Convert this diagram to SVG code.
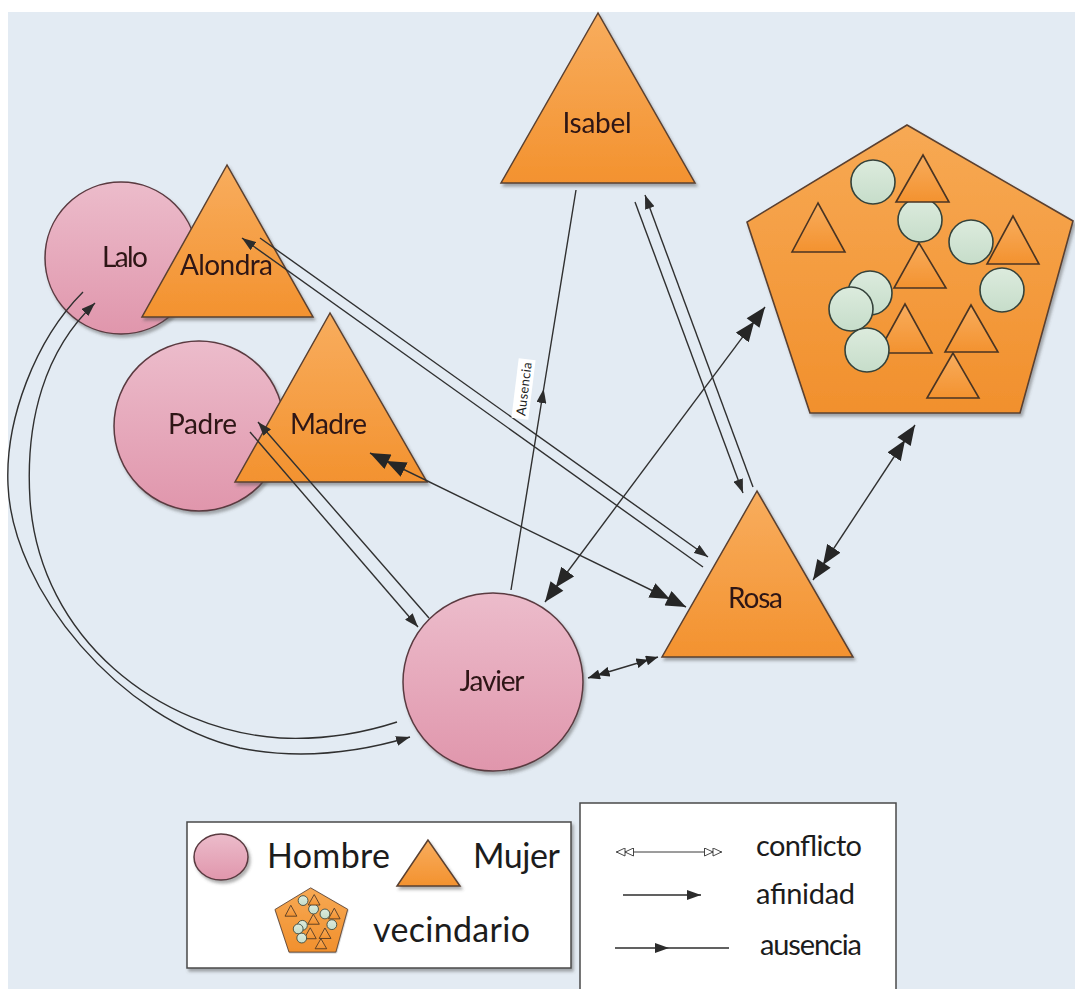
<svg xmlns="http://www.w3.org/2000/svg" xmlns:xlink="http://www.w3.org/1999/xlink" width="1075" height="989" viewBox="0 0 1075 989">
  <defs>
    <style>
      .lbl { font-family: Lato, "Liberation Sans", sans-serif; font-size: 28px; fill: #2e1616; text-anchor: middle; }
      .leg1 { font-family: Lato, "Liberation Sans", sans-serif; font-size: 34px; fill: #1c1c1c; }
      .leg2 { font-family: Lato, "Liberation Sans", sans-serif; font-size: 29px; fill: #1c1c1c; }
      .man { fill: url(#pinkGrad); stroke: #5a3a40; stroke-width: 1.5; }
      .woman { fill: url(#orangeGrad); stroke: #5a4030; stroke-width: 1.5; }
      .hood { fill: url(#hoodGrad); stroke: #5a4030; }
      .mini-c { fill: url(#greenGrad); stroke: #34423a; }
      .mini-t { fill: url(#orangeGrad); stroke: #4a3424; }
      .link { fill: none; stroke: #303030; stroke-width: 1.4; }
      .box { fill: #ffffff; stroke: #4a4a4a; stroke-width: 1.5; }
    </style>
    <linearGradient id="pinkGrad" x1="0" y1="0" x2="0" y2="1">
      <stop offset="0" stop-color="#ecbccb"/>
      <stop offset="1" stop-color="#e096ac"/>
    </linearGradient>
    <linearGradient id="orangeGrad" x1="0" y1="0" x2="0" y2="1">
      <stop offset="0" stop-color="#f8ad5e"/>
      <stop offset="1" stop-color="#f3922f"/>
    </linearGradient>
    <linearGradient id="hoodGrad" x1="0" y1="0" x2="0" y2="1">
      <stop offset="0" stop-color="#f7a954"/>
      <stop offset="1" stop-color="#f1902d"/>
    </linearGradient>
    <linearGradient id="greenGrad" x1="0" y1="0" x2="0" y2="1">
      <stop offset="0" stop-color="#dcebdd"/>
      <stop offset="1" stop-color="#c6ddca"/>
    </linearGradient>
    <filter id="shadow" x="-10%" y="-10%" width="125%" height="125%">
      <feDropShadow dx="2" dy="3" stdDeviation="1.8" flood-color="#505050" flood-opacity="0.45"/>
    </filter>

    <!-- single filled arrowhead (afinidad) -->
    <marker id="ah" viewBox="0 0 14 10" refX="14" refY="5" markerWidth="14" markerHeight="10" markerUnits="userSpaceOnUse" orient="auto">
      <path d="M0,0 L14,5 L0,10 z" fill="#2c2c2c"/>
    </marker>
    <!-- mid-line arrowhead (ausencia) -->
    <marker id="mid" viewBox="0 0 14 10" refX="10" refY="5" markerWidth="14" markerHeight="10" markerUnits="userSpaceOnUse" orient="auto">
      <path d="M0,0 L14,5 L0,10 z" fill="#2c2c2c"/>
    </marker>
    <!-- double filled arrowhead (conflicto) -->
    <marker id="dd" viewBox="0 0 38 16" refX="38" refY="8" markerWidth="38" markerHeight="16" markerUnits="userSpaceOnUse" orient="auto-start-reverse">
      <path d="M0,0 L20,8 L0,16 z M18,0 L38,8 L18,16 z" fill="#262626"/>
    </marker>
    <marker id="ddSmall" viewBox="0 0 22 10" refX="22" refY="5" markerWidth="22" markerHeight="10" markerUnits="userSpaceOnUse" orient="auto-start-reverse">
      <path d="M0,0 L12,5 L0,10 z M10,0 L22,5 L10,10 z" fill="#262626"/>
    </marker>
    <!-- open double arrowhead used in the key -->
    <marker id="ddOpen" viewBox="0 0 18 9" refX="18" refY="4.5" markerWidth="18" markerHeight="9" markerUnits="userSpaceOnUse" orient="auto-start-reverse">
      <path d="M0.5,0.5 L9,4.5 L0.5,8.5 z M9,0.5 L17.5,4.5 L9,8.5 z" fill="#ffffff" stroke="#333" stroke-width="0.9"/>
    </marker>

    <!-- neighbourhood pictogram: pentagon filled with people -->
    <g id="hoodShape">
      <polygon class="hood" points="907,125 1073,221 1020,413 810,413 747,222"/>
      <circle class="mini-c" cx="873" cy="182" r="22"/>
      <circle class="mini-c" cx="920" cy="220" r="22"/>
      <polygon class="mini-t" points="923,155 896,202 949,202"/>
      <polygon class="mini-t" points="818,203 792,252 845,252"/>
      <polygon class="mini-t" points="1013,216 987,264 1039,264"/>
      <circle class="mini-c" cx="971" cy="242" r="22"/>
      <polygon class="mini-t" points="919,243 894,288 946,288"/>
      <circle class="mini-c" cx="1002" cy="290" r="22"/>
      <polygon class="mini-t" points="905,304 878,353 932,353"/>
      <circle class="mini-c" cx="870" cy="293" r="22"/>
      <circle class="mini-c" cx="851" cy="309" r="22"/>
      <circle class="mini-c" cx="867" cy="350" r="22"/>
      <polygon class="mini-t" points="971,305 945,352 998,352"/>
      <polygon class="mini-t" points="953,353 927,398 979,398"/>
    </g>
  </defs>

  <!-- canvas -->
  <rect x="0" y="0" width="1075" height="989" fill="#ffffff"/>
  <rect x="8" y="12" width="1067" height="977" fill="#e3ebf3"/>

  <!-- people -->
  <g id="lalo" filter="url(#shadow)">
    <circle class="man" cx="121" cy="258" r="76"/>
    <text class="lbl" x="125" y="267" textLength="46">Lalo</text>
  </g>
  <g id="alondra" filter="url(#shadow)">
    <polygon class="woman" points="227,165 142,317 313,317"/>
    <text class="lbl" x="226.5" y="275" textLength="93">Alondra</text>
  </g>
  <g id="isabel" filter="url(#shadow)">
    <polygon class="woman" points="598,13 501,183 695,183"/>
    <text class="lbl" x="597" y="133" textLength="69">Isabel</text>
  </g>
  <g id="padre" filter="url(#shadow)">
    <circle class="man" cx="199" cy="426" r="85"/>
    <text class="lbl" x="202.5" y="434" textLength="69">Padre</text>
  </g>
  <g id="madre" filter="url(#shadow)">
    <polygon class="woman" points="330,313 235,482 427,482"/>
    <text class="lbl" x="328.5" y="434" textLength="77">Madre</text>
  </g>
  <g id="javier" filter="url(#shadow)">
    <ellipse class="man" cx="493" cy="682" rx="90" ry="89"/>
    <text class="lbl" x="492" y="691" textLength="65">Javier</text>
  </g>
  <g id="rosa" filter="url(#shadow)">
    <polygon class="woman" points="757,491 662,657 853,657"/>
    <text class="lbl" x="755.5" y="608" textLength="55">Rosa</text>
  </g>
  <g id="vecindario" filter="url(#shadow)">
    <use xlink:href="#hoodShape" stroke-width="1.6"/>
  </g>

  <!-- relationships -->
  <g id="connectors">
    <!-- Lalo / Javier (afinidad, both ways) -->
    <path class="link" d="M83,292 C35,340 5,420 8,485 C12,590 120,720 240,748 C300,760 360,752 410,737" marker-end="url(#ah)"/>
    <path class="link" d="M397,722 C360,734 320,740 280,738 C160,730 40,640 30,500 C25,420 45,350 95,303" marker-end="url(#ah)"/>
    <!-- Padre / Javier -->
    <path class="link" d="M250,432 L418,627" marker-end="url(#ah)"/>
    <path class="link" d="M429,618 L258,422" marker-end="url(#ah)"/>
    <!-- Alondra / Rosa -->
    <path class="link" d="M260,238 L708,557" marker-end="url(#ah)"/>
    <path class="link" d="M703,567 L242,238" marker-end="url(#ah)"/>
    <!-- Isabel / Rosa -->
    <path class="link" d="M635,202 L743,493" marker-end="url(#ah)"/>
    <path class="link" d="M753,487 L645,195" marker-end="url(#ah)"/>
    <!-- Javier / Isabel (ausencia) -->
    <path class="link" d="M511,590 L543,393 L576,190" marker-mid="url(#mid)"/>
    <g transform="translate(524,389) rotate(-83)">
      <rect x="-30" y="-9" width="60" height="17" fill="#ffffff"/>
      <text x="0" y="4.5" font-family="Lato, 'Liberation Sans', sans-serif" font-size="13" fill="#222" text-anchor="middle" textLength="54">Ausencia</text>
    </g>
    <!-- conflicts -->
    <path class="link" d="M370,453 L686,607" marker-start="url(#dd)" marker-end="url(#dd)"/>
    <path class="link" d="M545,602 L765,307" marker-start="url(#dd)" marker-end="url(#dd)"/>
    <path class="link" d="M813,580 L915,425" marker-start="url(#dd)" marker-end="url(#dd)"/>
    <path class="link" d="M588,678 L658,657" marker-start="url(#ddSmall)" marker-end="url(#ddSmall)"/>
  </g>

  <!-- key: node types -->
  <g id="legend-nodes">
    <rect class="box" x="187" y="822" width="384" height="146" filter="url(#shadow)"/>
    <ellipse class="man" cx="221" cy="857" rx="27" ry="23" filter="url(#shadow)"/>
    <text class="leg1" x="267" y="868" textLength="123">Hombre</text>
    <polygon class="woman" points="428,840 397,886 460,886" filter="url(#shadow)"/>
    <text class="leg1" x="473" y="868" textLength="87">Mujer</text>
    <use xlink:href="#hoodShape" transform="translate(108.4,860) scale(0.223)" stroke-width="3.8" filter="url(#shadow)"/>
    <text class="leg1" x="373" y="942" textLength="157">vecindario</text>
  </g>

  <!-- key: relationship types -->
  <g id="legend-links">
    <rect class="box" x="580" y="803" width="316" height="200"/>
    <path d="M616,852 L722,852" stroke="#3a3a3a" stroke-width="1" fill="none" marker-start="url(#ddOpen)" marker-end="url(#ddOpen)"/>
    <text class="leg2" x="756" y="856" textLength="106">conflicto</text>
    <path d="M623,895 L701,895" stroke="#2c2c2c" stroke-width="1.3" fill="none" marker-end="url(#ah)"/>
    <text class="leg2" x="756" y="904" textLength="99">afinidad</text>
    <path d="M615,948 L665,948 L729,948" stroke="#2c2c2c" stroke-width="1.3" fill="none" marker-mid="url(#mid)"/>
    <text class="leg2" x="760" y="955" textLength="102">ausencia</text>
  </g>
</svg>
